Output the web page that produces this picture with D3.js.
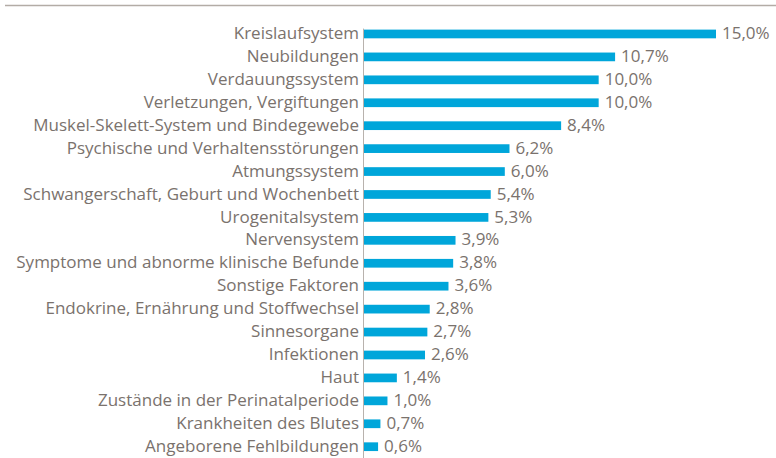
<!DOCTYPE html>
<html>
<head>
<meta charset="utf-8">
<script src="https://cdn.jsdelivr.net/npm/d3@7"></script>
<style>
  body { margin: 0; background: #fff; }
  text { font-family: "Open Sans", sans-serif; fill: #7a726d; }
</style>
</head>
<body>
<div id="chart"></div>
<script>
// categories and shares (%)
var categories = [
  "Kreislaufsystem", "Neubildungen", "Verdauungssystem", "Verletzungen, Vergiftungen",
  "Muskel-Skelett-System und Bindegewebe", "Psychische und Verhaltensstörungen",
  "Atmungssystem", "Schwangerschaft, Geburt und Wochenbett", "Urogenitalsystem",
  "Nervensystem", "Symptome und abnorme klinische Befunde", "Sonstige Faktoren",
  "Endokrine, Ernährung und Stoffwechsel", "Sinnesorgane", "Infektionen", "Haut",
  "Zustände in der Perinatalperiode", "Krankheiten des Blutes", "Angeborene Fehlbildungen"
];
var values = [15.0, 10.7, 10.0, 10.0, 8.4, 6.2, 6.0, 5.4, 5.3, 3.9, 3.8, 3.6, 2.8, 2.7, 2.6, 1.4, 1.0, 0.7, 0.6];

var width = 776, height = 458;
var margin = {top: 22.5, left: 363, bottom: 0};
var step = 22.93;

var svg = d3.select("#chart").append("svg")
    .attr("width", width)
    .attr("height", height);

// top rule
svg.append("line")
    .attr("x1", 5).attr("x2", width)
    .attr("y1", 5.5).attr("y2", 5.5)
    .attr("stroke", "#b3aca6").attr("stroke-width", 1.5);

var x = d3.scaleLinear().domain([0, 15]).range([margin.left + 1, 716]);
var y = d3.scaleBand().domain(categories)
    .range([margin.top, margin.top + step * categories.length])
    .paddingInner(0.62).paddingOuter(0.31);

var g = svg.append("g");

// bars
g.selectAll("rect.bar")
  .data(values)
  .enter().append("rect")
    .attr("class", "bar")
    .attr("x", x(0))
    .attr("y", function(d, i) { return y(categories[i]); })
    .attr("width", function(d) { return x(d) - x(0); })
    .attr("height", y.bandwidth())
    .attr("fill", "#00a6da");

// axis line with category labels
var axis = g.append("g")
    .attr("transform", "translate(" + margin.left + ",0)")
    .call(d3.axisLeft(y).tickSize(0).tickPadding(4));
axis.select(".domain").attr("stroke", "#b8b2ad").attr("d", "M0.5," + (y(categories[0]) - 1) + "V" + height);
axis.selectAll("text").style("font-size", "17px").style("font-weight", 500).attr("fill", "#7a726d")
    .attr("dy", "0.3em")
    .style("font-family", "'Open Sans', sans-serif");

// value labels
g.selectAll("text.val")
  .data(values)
  .enter().append("text")
    .attr("class", "val")
    .attr("x", function(d) { return x(d) + 6; })
    .attr("y", function(d, i) { return y(categories[i]) + y.bandwidth() / 2; })
    .attr("dy", "0.3em")
    .style("font-size", "17px")
    .style("font-weight", 500)
    .text(function(d) { return d.toFixed(1).replace(".", ",") + "%"; });
</script>
</body>
</html>
